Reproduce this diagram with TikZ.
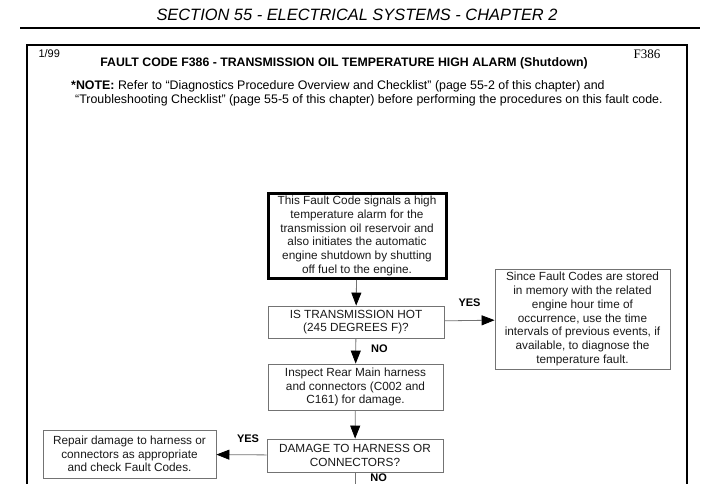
\documentclass[tikz,border=0pt]{standalone}
\usepackage{fontspec}
\setmainfont{Liberation Sans}
\newfontfamily\timesfont{Liberation Serif}
\usepackage{tikz}
\tikzstyle{etape}=[draw=black!55, line width=0.8pt, align=center, inner sep=1pt, text=black!90, font=\fontsize{11.8}{13.7}\selectfont]
\newcommand{\etape}{\node[etape]}
\usetikzlibrary{arrows.meta,calc}

\begin{document}
\begin{tikzpicture}[x=1pt, y=-1pt]
			\tikzstyle{fleche}=[draw=black!55, line width=0.8pt, -{Triangle[width=10pt,length=13pt,color=black,fill=black]}]
			\tikzstyle{reponse}=[font=\bfseries\fontsize{11}{12}\selectfont, inner sep=1pt]
			\useasboundingbox (0,0) rectangle (720,484);
			% En-tete de page
			\node (section) at (357,15) {\fontsize{16.4}{19}\selectfont\itshape SECTION 55 - ELECTRICAL SYSTEMS - CHAPTER 2};
			\draw[line width=1.6pt] (20,28) -- (700,28);
			\draw[line width=1.8pt] (27,500) |- (687,45) -- (687,500);
			\node[anchor=west] (date) at (35,54) {\fontsize{11}{12}\selectfont 1/99};
			\node[anchor=east] (code) at (664,54) {\timesfont\fontsize{13}{14}\selectfont F386};
			\node (titre) at (344,63) {\bfseries\fontsize{12.3}{14}\selectfont FAULT CODE F386 - TRANSMISSION OIL TEMPERATURE HIGH ALARM (Shutdown)};
			\node[anchor=north west, align=left, inner sep=0pt, font=\fontsize{12.4}{14}\selectfont] (note) at (71,80) {\textbf{*NOTE:} Refer to “Diagnostics Procedure Overview and Checklist” (page 55-2 of this chapter) and\\
				\hspace*{4pt}“Troubleshooting Checklist” (page 55-5 of this chapter) before performing the procedures on this fault code.};
			% Etapes du diagnostic
			\etape[draw=black, line width=3pt, minimum width=178pt, minimum height=85pt] (signal) at (357,236) {This Fault Code signals a high\\temperature alarm for the\\transmission oil reservoir and\\also initiates the automatic\\engine shutdown by shutting\\off fuel to the engine.};
			\etape[minimum width=176pt, minimum height=32pt] (chaud) at (356,322) {IS TRANSMISSION HOT\\(245 DEGREES F)?};
			\etape[minimum width=175pt, minimum height=100pt] (memoire) at (582.5,319) {Since Fault Codes are stored\\in memory with the related\\engine hour time of\\occurrence, use the time\\intervals of previous events, if\\available, to diagnose the\\temperature fault.};
			\etape[minimum width=175pt, minimum height=46pt] (inspect) at (355.5,387) {Inspect Rear Main harness\\and connectors (C002 and\\C161) for damage.};
			\etape[minimum width=176pt, minimum height=33pt] (dommage) at (355,455.5) {DAMAGE TO HARNESS OR\\CONNECTORS?};
			\etape[minimum width=173pt, minimum height=48pt] (repare) at (129.5,454) {Repair damage to harness or\\connectors as appropriate\\and check Fault Codes.};
			\coordinate (suite) at (355,510);
			
			\path
			(signal) edge[fleche] (chaud)
			(chaud) edge[fleche] node[reponse, above=12pt]{YES} (memoire)
			(chaud) edge[fleche] node[reponse, right=14pt, pos=0.4]{NO} (inspect)
			(inspect) edge[fleche] (dommage)
			(dommage) edge[fleche] node[reponse, above=11pt, pos=0.37]{YES} (repare)
			(dommage) edge[draw=black!55, line width=0.8pt] node[reponse, right=14pt, pos=0.15]{NO} (suite)
			;
		\end{tikzpicture}
\end{document}
